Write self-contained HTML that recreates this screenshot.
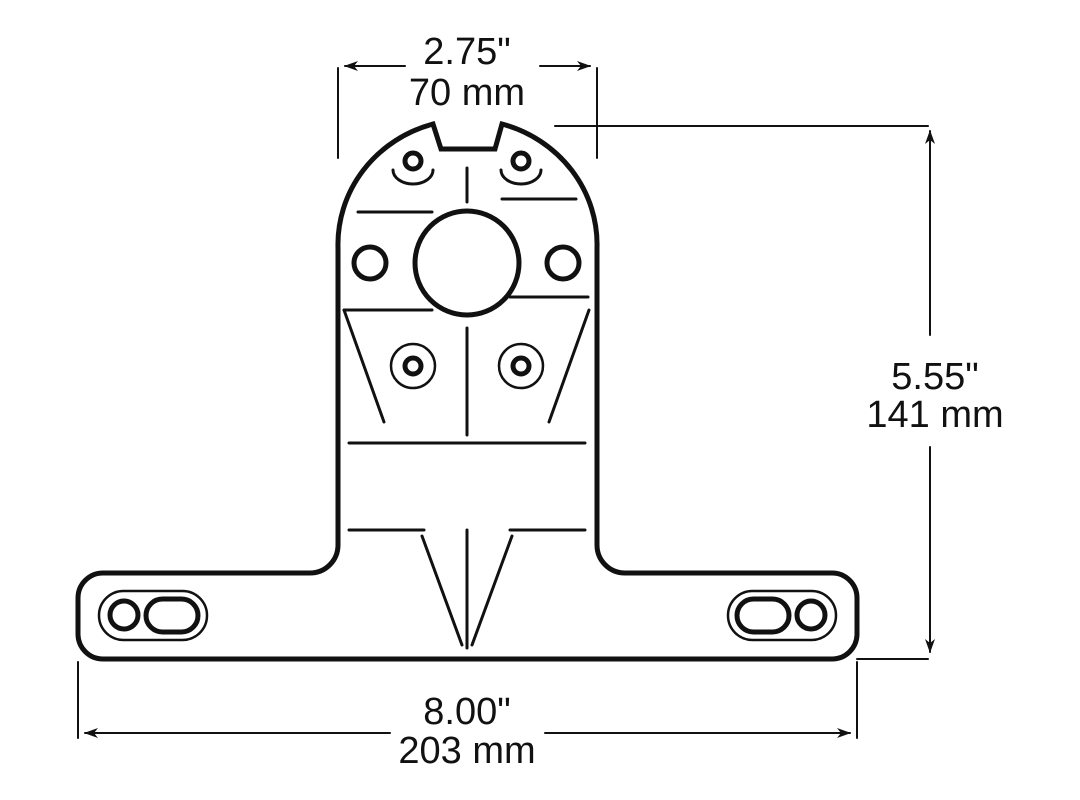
<!DOCTYPE html>
<html><head><style>body{margin:0;background:#fff}svg{display:block}text{font-family:"Liberation Sans",sans-serif;font-size:38px;fill:#111;text-anchor:middle}</style></head>
<body>
<svg width="1080" height="800" viewBox="0 0 1080 800" xmlns="http://www.w3.org/2000/svg">
<defs><marker id="a" markerWidth="14" markerHeight="10" refX="13" refY="5" orient="auto" markerUnits="userSpaceOnUse"><path d="M0,0 L14,5 L0,10 L4,5 Z" fill="#111"/></marker></defs>
<g fill="none" stroke="#111" stroke-linecap="round">
<path stroke-width="5" d="M433,124 L441,149 L495,149 L502,124 A130,125 0 0 1 597,248 L597,545 A28,28 0 0 0 625,573 L832,573 A25,25 0 0 1 857,598 L857,634 A25,25 0 0 1 832,659 L103,659 A25,25 0 0 1 78,634 L78,598 A25,25 0 0 1 103,573 L310,573 A28,28 0 0 0 338,545 L338,248 A130,125 0 0 1 433,124 Z"/>
<circle cx="413" cy="161" r="8" stroke-width="5"/><circle cx="521" cy="161" r="8" stroke-width="5"/>
<path d="M393,170 A20,14 0 0 0 433,170" stroke-width="3"/><path d="M501,170 A20,14 0 0 0 541,170" stroke-width="3"/>
<g stroke-width="3">
<line x1="467" y1="168" x2="467" y2="202"/>
<line x1="358" y1="212" x2="432" y2="212"/><line x1="502" y1="199" x2="576" y2="199"/>
<line x1="344" y1="310" x2="432" y2="310"/><line x1="510" y1="297" x2="588" y2="297"/>
<line x1="344" y1="310" x2="384" y2="422"/><line x1="589" y1="310" x2="549" y2="422"/>
<line x1="467" y1="328" x2="467" y2="435"/>
<line x1="349" y1="443" x2="585" y2="443"/>
<line x1="349" y1="530" x2="424" y2="530"/><line x1="510" y1="530" x2="585" y2="530"/>
<line x1="467" y1="530" x2="467" y2="648"/>
<line x1="422" y1="536" x2="462" y2="645"/><line x1="512" y1="536" x2="472" y2="645"/>
</g>
<circle cx="467" cy="263" r="52" stroke-width="5"/>
<circle cx="370" cy="263" r="16" stroke-width="5"/><circle cx="563" cy="263" r="16" stroke-width="5"/>
<circle cx="413" cy="366" r="22" stroke-width="2.5"/><circle cx="413" cy="366" r="8" stroke-width="5"/>
<circle cx="521" cy="366" r="22" stroke-width="2.5"/><circle cx="521" cy="366" r="8" stroke-width="5"/>
<rect x="99" y="591" width="108" height="49" rx="24.5" stroke-width="2.5"/>
<circle cx="124" cy="615" r="14" stroke-width="5"/><rect x="146" y="599" width="52" height="33" rx="16.5" stroke-width="5"/>
<rect x="728" y="591" width="108" height="49" rx="24.5" stroke-width="2.5"/>
<circle cx="811" cy="615" r="14" stroke-width="5"/><rect x="737" y="599" width="52" height="33" rx="16.5" stroke-width="5"/>
<g stroke-width="2">
<line x1="338" y1="68" x2="338" y2="158"/><line x1="597" y1="68" x2="597" y2="158"/>
<line x1="405" y1="66" x2="345" y2="66" marker-end="url(#a)"/><line x1="540" y1="66" x2="590" y2="66" marker-end="url(#a)"/>
<line x1="555" y1="126" x2="928" y2="126"/><line x1="857" y1="659" x2="928" y2="659"/>
<line x1="930" y1="335" x2="930" y2="131" marker-end="url(#a)"/><line x1="930" y1="447" x2="930" y2="652" marker-end="url(#a)"/>
<line x1="78" y1="662" x2="78" y2="738"/><line x1="857" y1="662" x2="857" y2="738"/>
<line x1="390" y1="733" x2="85" y2="733" marker-end="url(#a)"/><line x1="545" y1="733" x2="850" y2="733" marker-end="url(#a)"/>
</g>
</g>
<text x="467" y="64">2.75"</text><text x="467" y="105">70 mm</text>
<text x="935" y="389">5.55"</text><text x="935" y="427">141 mm</text>
<text x="467" y="724">8.00"</text><text x="467" y="763">203 mm</text>
</svg>
</body></html>
